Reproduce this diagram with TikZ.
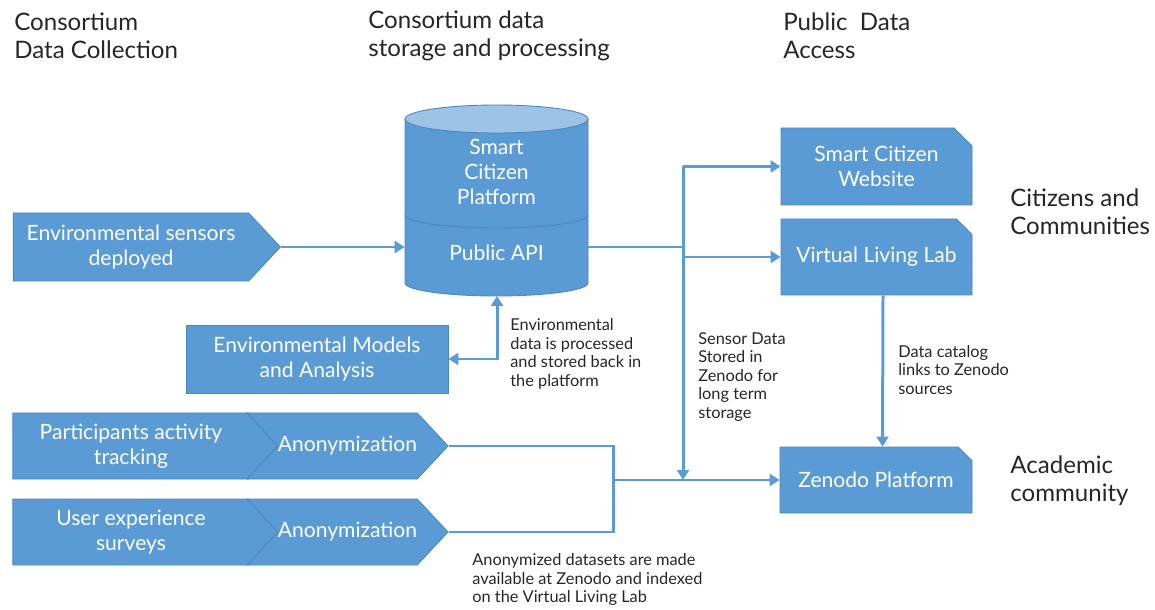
\documentclass[tikz,border=0pt]{standalone}
\usepackage{fontspec}
\setmainfont{Lato}
\usepackage{tikz}
\usetikzlibrary{positioning,arrows.meta,shapes.symbols,shapes.misc}

\definecolor{boxblue}{HTML}{5B9BD5}
\definecolor{boxedge}{HTML}{4A86BF}
\definecolor{toplight}{HTML}{9DC3E6}
\definecolor{ink}{HTML}{262626}

\begin{document}
\begin{tikzpicture}[
  box/.style={fill=boxblue, draw=boxedge, line width=0.5pt, text=white, align=center,
    font=\fontsize{12}{14.2}\selectfont, inner sep=0pt},
  arrowbox/.style={box, signal, signal to=east, signal pointer angle=94},
  chevron/.style={arrowbox, signal from=west},
  snipbox/.style={box, chamfered rectangle, chamfered rectangle corners=north east,
    chamfered rectangle xsep=2.4mm},
  cyltext/.style={text=white, align=center, inner sep=0pt, font=\fontsize{12}{14}\selectfont},
  heading/.style={text=ink, align=left, anchor=west, inner sep=0pt, font=\fontsize{13.7}{16}\selectfont},
  remark/.style={text=ink, align=left, anchor=west, inner sep=0pt, font=\fontsize{9.3}{10.5}\selectfont},
  link/.style={draw=boxblue, line width=1.7pt},
  flow/.style={-{Triangle[length=2mm,width=2.4mm]}},
  twoway/.style={{Triangle[length=2mm,width=2.4mm]}-{Triangle[length=2mm,width=2.4mm]}}
]
\useasboundingbox (0,0) rectangle (23.1,12.18);

\node[heading] (collect) at (0.28,11.46) {Consortium\\Data Collection};
\node[heading] (storage) at (7.36,11.46) {Consortium data\\storage and processing};
\node[heading] (access) at (15.66,11.46) {Public\ \ Data\\Access};
\node[heading] (citizens) at (20.2,7.94) {Citizens and\\Communities};
\node[heading] (academic) at (20.2,2.56) {Academic\\community};

% data platform
\filldraw[fill=boxblue, draw=boxedge, line width=0.5pt] (8.1,9.8) -- (8.1,6.52)
  arc[start angle=180, end angle=360, x radius=1.83, y radius=0.26] -- (11.76,9.8);
\draw[fill=toplight, draw=boxedge, line width=0.5pt] (9.93,9.8) ellipse [x radius=1.83, y radius=0.28];
\draw[boxedge, line width=0.5pt] (8.1,7.88) arc[start angle=180, end angle=360, x radius=1.83, y radius=0.26];
\node[cyltext] (platform) at (9.93,8.74) {Smart\\Citizen\\Platform};
\node[cyltext, minimum width=3.66cm] (api) at (9.93,7.12) {Public API};
\coordinate (base) at (9.94,6.26);

\node[arrowbox, minimum width=5.34cm, minimum height=1.36cm] (sensors) at (2.62,7.24) {Environmental sensors\\deployed};
\node[box, minimum width=5.24cm, minimum height=1.36cm] (models) at (6.34,5.0) {Environmental Models\\and Analysis};
\node[arrowbox, minimum width=5.34cm, minimum height=1.32cm] (tracking) at (2.62,3.26) {Participants activity\\tracking};
\node[chevron, minimum width=4.02cm, minimum height=1.32cm] (anon1) at (6.95,3.26) {Anonymization};
\node[arrowbox, minimum width=5.34cm, minimum height=1.32cm] (surveys) at (2.62,1.54) {User experience\\surveys};
\node[chevron, minimum width=4.02cm, minimum height=1.32cm] (anon2) at (6.95,1.54) {Anonymization};

\node[snipbox, minimum width=3.82cm, minimum height=1.54cm] (website) at (17.53,8.85) {Smart Citizen\\Website};
\node[snipbox, minimum width=3.82cm, minimum height=1.52cm] (vll) at (17.53,7.04) {Virtual Living Lab};
\node[snipbox, minimum width=3.84cm, minimum height=1.32cm] (zenodo) at (17.52,2.58) {Zenodo Platform};

\coordinate (bus) at (13.66,8.85);
\coordinate (merge) at (12.26,2.58);

\draw[link, flow] (sensors.east) -- (sensors.east -| api.west);
\draw[link, twoway] (models.east) -| (base);
\draw[link] (sensors.east -| api.east) -- (sensors.east -| bus);
\draw[link, flow] (bus) -- (website.west);
\draw[link, flow] (bus |- vll.west) -- (vll.west);
\draw[link, flow] (bus) -- (bus |- merge);
\draw[link] (anon1.east) -| (merge) |- (anon2.east);
\draw[link, flow] (merge) -- (zenodo.west);
\draw[link, flow] ([xshift=1.3mm]vll.south) -- ([xshift=1.3mm]zenodo.north);

\node[remark] (processed) at (10.2,5.1) {Environmental\\data is processed\\and stored back in\\the platform};
\node[remark] (stored) at (13.96,4.64) {Sensor Data\\Stored in\\Zenodo for\\long term\\storage};
\node[remark] (catalog) at (17.96,4.78) {Data catalog\\links to Zenodo\\sources};
\node[remark, anchor=south west] (indexed) at (9.44,0.06) {Anonymized datasets are made\\available at Zenodo and indexed\\on the Virtual Living Lab};
\end{tikzpicture}
\end{document}
